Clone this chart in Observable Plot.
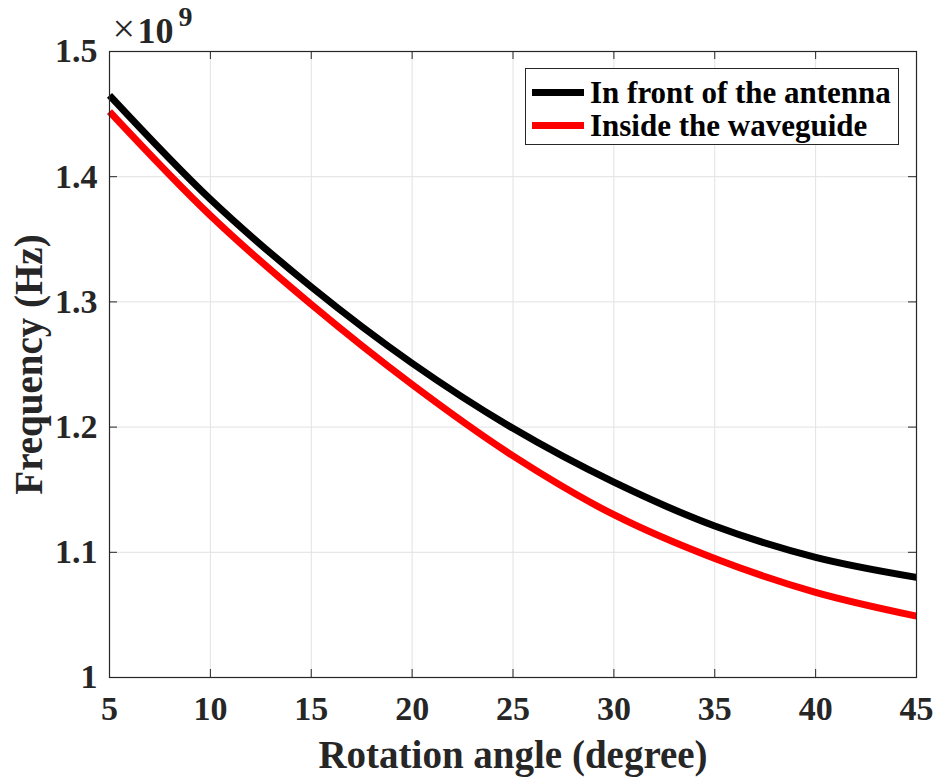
<!DOCTYPE html>
<html>
<head>
<meta charset="utf-8">
<script src="https://cdn.jsdelivr.net/npm/d3@7"></script>
<script src="https://cdn.jsdelivr.net/npm/@observablehq/plot@0.6"></script>
<style>
  body { margin: 0; background: #fff; }
  #wrap { position: relative; width: 938px; height: 778px; }
  .legend { position: absolute; left: 525px; top: 68px; width: 372px; height: 75px;
    border: 1px solid #262626; background: #fff; font-family: "Liberation Serif", serif;
    font-weight: bold; font-size: 31px; color: #000; }
  .row { position: absolute; left: 6px; height: 33px; display: flex; align-items: center; }
  .sw { width: 52px; height: 7px; margin-right: 6px; }
</style>
</head>
<body>
<div id="wrap"></div>
<script>
const angles = [5, 10, 15, 20, 25, 30, 35, 40, 45];
const frontFreq = [1.465, 1.382, 1.312, 1.251, 1.199, 1.156, 1.121, 1.096, 1.080];
const waveguideFreq = [1.452, 1.369, 1.298, 1.234, 1.177, 1.130, 1.095, 1.068, 1.049];
const seriesNames = ["In front of the antenna", "Inside the waveguide"];
const seriesColors = ["#000000", "#ff0000"];
const xTicks = [5, 10, 15, 20, 25, 30, 35, 40, 45];
const yTicks = [1, 1.1, 1.2, 1.3, 1.4, 1.5];

const rows = [];
angles.forEach((a, i) => {
  rows.push({angle: a, freq: frontFreq[i], series: seriesNames[0]});
  rows.push({angle: a, freq: waveguideFreq[i], series: seriesNames[1]});
});

const W = 938, H = 778;
const mL = 109, mR = 22, mT = 51, mB = 101;
const fw = W - mL - mR, fh = H - mT - mB;
const axisColor = "#262626";
const tickLen = 8;

const chart = Plot.plot({
  width: W, height: H,
  marginLeft: mL, marginRight: mR, marginTop: mT, marginBottom: mB,
  style: {fontFamily: "'Liberation Serif', serif", fontWeight: "bold", fontSize: "34px", background: "#fff", color: axisColor},
  x: {domain: [5, 45]},
  y: {domain: [1, 1.5]},
  color: {domain: seriesNames, range: seriesColors},
  marks: [
    Plot.gridX(xTicks, {stroke: "#e2e2e2", strokeOpacity: 1, strokeWidth: 1}),
    Plot.gridY(yTicks, {stroke: "#e2e2e2", strokeOpacity: 1, strokeWidth: 1}),
    Plot.line(rows, {x: "angle", y: "freq", z: "series", stroke: "series", strokeWidth: 7, strokeLinecap: "butt", curve: "catmull-rom"}),
    Plot.ruleX(xTicks, {stroke: axisColor, insetTop: fh - tickLen}),
    Plot.ruleX(xTicks, {stroke: axisColor, insetBottom: fh - tickLen}),
    Plot.ruleY(yTicks, {stroke: axisColor, insetRight: fw - tickLen}),
    Plot.ruleY(yTicks, {stroke: axisColor, insetLeft: fw - tickLen}),
    Plot.frame({stroke: axisColor, strokeWidth: 1.2}),
    Plot.axisX(xTicks, {tickSize: 0, tickPadding: 18, label: null, fill: axisColor, tickFormat: d3.format("~g")}),
    Plot.axisY(yTicks, {tickSize: 0, tickPadding: 12, label: null, fill: axisColor, tickFormat: d3.format("~g")}),
    Plot.text(["Rotation angle (degree)"], {frameAnchor: "bottom", lineAnchor: "middle", dy: 78, fontSize: 39, fontWeight: "bold", fill: axisColor}),
    Plot.text(["Frequency (Hz)"], {frameAnchor: "left", textAnchor: "middle", lineAnchor: "middle", rotate: -90, dx: -80, fontSize: 39, fontWeight: "bold", fill: axisColor}),
    Plot.text(["×"], {frameAnchor: "top-left", textAnchor: "start", lineAnchor: "middle", dx: 3, dy: -22, fontSize: 40, fontWeight: "normal", fill: axisColor}),
    Plot.text(["10"], {frameAnchor: "top-left", textAnchor: "start", lineAnchor: "middle", dx: 28, dy: -20, fontSize: 36, fontWeight: "bold", fill: axisColor}),
    Plot.text(["9"], {frameAnchor: "top-left", textAnchor: "start", lineAnchor: "middle", dx: 69, dy: -34, fontSize: 28, fontWeight: "bold", fill: axisColor})
  ]
});

const wrap = document.getElementById("wrap");
wrap.appendChild(chart);

const legend = document.createElement("div");
legend.className = "legend";
seriesNames.forEach((name, i) => {
  const r = document.createElement("div");
  r.className = "row";
  r.style.top = (7 + i * 33) + "px";
  const sw = document.createElement("div");
  sw.className = "sw";
  sw.style.background = seriesColors[i];
  const t = document.createElement("span");
  t.textContent = name;
  r.appendChild(sw); r.appendChild(t);
  legend.appendChild(r);
});
wrap.appendChild(legend);
</script>
</body>
</html>
